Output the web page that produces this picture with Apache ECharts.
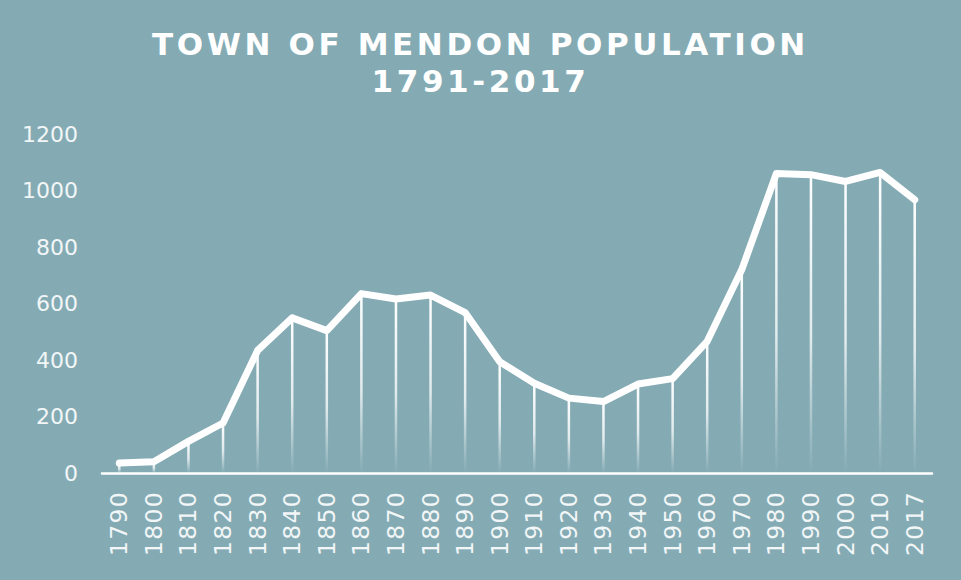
<!DOCTYPE html>
<html>
<head>
<meta charset="utf-8">
<script src="https://cdn.jsdelivr.net/npm/echarts@6/dist/echarts.min.js"></script>
<style>
html,body{margin:0;padding:0;background:#84abb4;}
#chart{width:961px;height:580px;}
#chart text[style*="31px"]{letter-spacing:3.6px;}
#chart text[style*="23.5px"]{letter-spacing:1.3px;}
</style>
</head>
<body>
<div id="chart"></div>
<script>
const years = ['1790','1800','1810','1820','1830','1840','1850','1860','1870','1880','1890','1900','1910','1920','1930','1940','1950','1960','1970','1980','1990','2000','2010','2017'];
const population = [35,40,112,177,434,549,504,635,616,630,568,394,318,265,253,315,334,466,720,1060,1056,1032,1064,967];
const titleText = 'TOWN OF MENDON POPULATION\n1791-2017';
const yTicks = {min:0, max:1200, interval:200};

const chart = echarts.init(document.getElementById('chart'), null, {renderer:'svg'});
chart.setOption({
  backgroundColor:'#84abb4',
  animation:false,
  title:{
    text:titleText,
    left:'center',
    top:20,
    textStyle:{color:'#ffffff', fontFamily:'DejaVu Sans', fontWeight:'bold', fontSize:31, lineHeight:37}
  },
  grid:{left:102, right:29, top:134, bottom:107, containLabel:false},
  xAxis:{
    type:'category',
    data:years,
    boundaryGap:true,
    axisLine:{show:true, lineStyle:{color:'#ffffff', width:2.5}},
    axisTick:{show:false},
    axisLabel:{rotate:90, color:'#f2f6f7', fontFamily:'DejaVu Sans', fontSize:23.5, margin:18, interval:0}
  },
  yAxis:{
    type:'value',
    min:yTicks.min, max:yTicks.max, interval:yTicks.interval,
    axisLine:{show:false},
    axisTick:{show:false},
    splitLine:{show:false},
    axisLabel:{color:'#f2f6f7', fontFamily:'DejaVu Sans', fontSize:22, margin:24, formatter:function(v){return String(v);}}
  },
  series:[
    {
      type:'bar',
      data:population,
      barWidth:2.5,
      silent:true,
      itemStyle:{color:new echarts.graphic.LinearGradient(0,0,0,1,[
        {offset:0,color:'rgba(255,255,255,1)'},
        {offset:0.55,color:'rgba(255,255,255,0.75)'},
        {offset:1,color:'rgba(255,255,255,0.0)'}
      ])}
    },
    {
      type:'line',
      data:population,
      showSymbol:false,
      symbol:'none',
      z:5,
      lineStyle:{color:'#ffffff', width:7, cap:'round', join:'round'}
    }
  ]
});
</script>
</body>
</html>
